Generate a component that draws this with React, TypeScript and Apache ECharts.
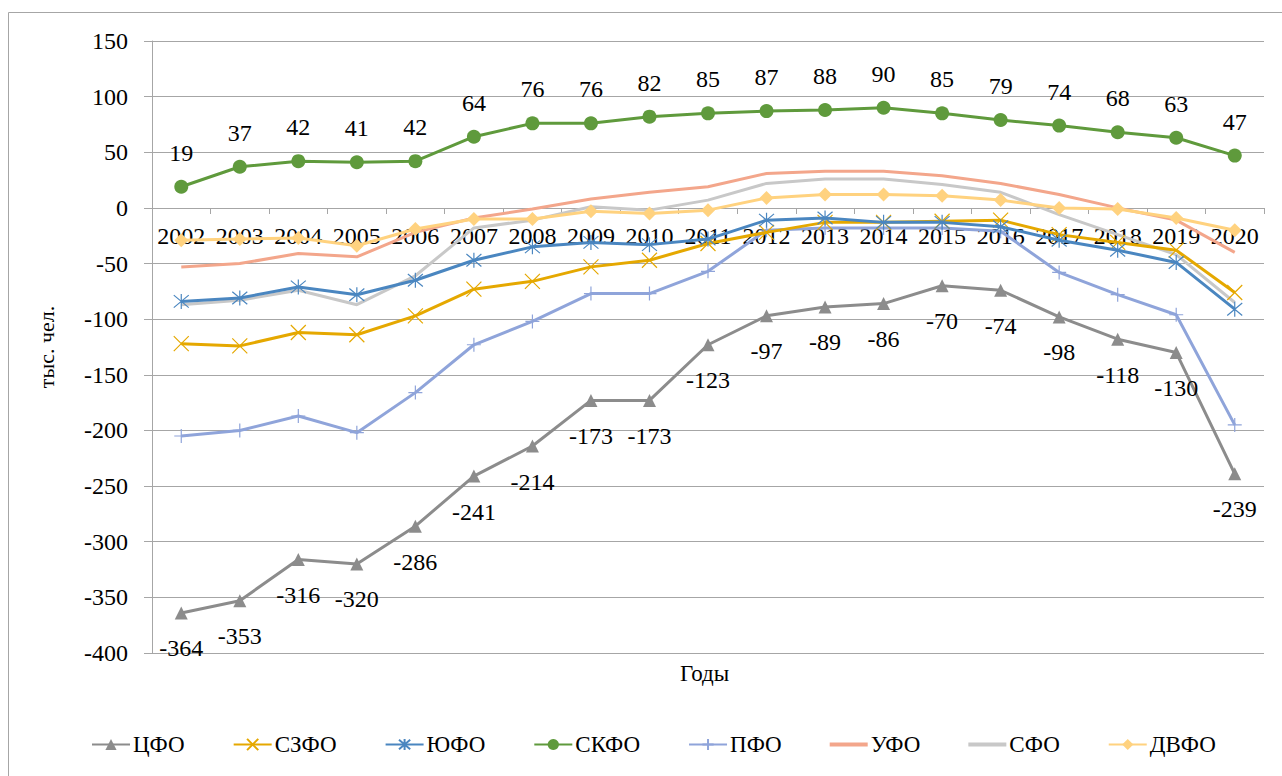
import React, { useEffect, useRef } from "react";
import * as echarts from "echarts";

const years = ["2002","2003","2004","2005","2006","2007","2008","2009","2010","2011","2012","2013","2014","2015","2016","2017","2018","2019","2020"];

const cfo = [-364,-353,-316,-320,-286,-241,-214,-173,-173,-123,-97,-89,-86,-70,-74,-98,-118,-130,-239];
const szfo = [-122,-124,-112,-114,-97,-73,-66,-53,-47,-32,-22,-13,-13,-12,-11,-24,-31,-38,-76];
const yufo = [-84,-81,-71,-78,-65,-47,-35,-31,-33,-28,-11,-9,-13,-13,-17,-29,-38,-49,-91];
const skfo = [19,37,42,41,42,64,76,76,82,85,87,88,90,85,79,74,68,63,47];
const pfo = [-205,-200,-187,-202,-166,-123,-102,-77,-77,-57,-20,-18,-18,-18,-21,-58,-78,-96,-195];
const ufo = [-53,-50,-41,-44,-22,-9,-1,8,14,19,31,33,33,29,22,12,0,-11,-40];
const sfo = [-87,-83,-74,-87,-61,-18,-11,1,-2,7,22,26,26,21,14,-6,-24,-42,-85];
const dvfo = [-29,-28,-27,-34,-19,-10,-10,-3,-5,-2,9,12,12,11,7,0,-1,-9,-20];

const FONT = "Liberation Serif";
const X_SYM = "path://M0,0L10,10M10,0L0,10";
const STAR_SYM = "path://M0,0L10,10M10,0L0,10M5,-1L5,11";
const PLUS_SYM = "path://M5,0L5,10M0,5L10,5";
const LINE_ICON = "path://M0,0L0.01,0L0,0.01ZM0,5L38,5L38,9L0,9ZM0,14L0.01,14L0,13.99Z";

export default function App() {
  const ref = useRef<HTMLDivElement>(null);
  useEffect(() => {
    if (!ref.current) return;
    const chart = echarts.init(ref.current, null, { renderer: "svg" });
    const lineBase = (name: string, data: number[], color: string, extra: any) => ({
      name,
      type: "line",
      data,
      lineStyle: { color, width: 3 },
      itemStyle: { color },
      ...extra,
    });
    chart.setOption({
      animation: false,
      textStyle: { fontFamily: FONT },
      grid: { left: 152, right: 18, top: 41, bottom: 123, containLabel: false },
      graphic: [
        {
          type: "rect",
          shape: { x: 8.5, y: 12.5, width: 1400, height: 900 },
          style: { fill: "none", stroke: "#a6a6a6", lineWidth: 1 },
          silent: true,
        },
        {
          type: "text",
          left: 680,
          top: 662,
          style: { text: "Годы", fontSize: 23, fontFamily: FONT, fill: "#000" },
        },
      ],
      legend: {
        left: 86,
        top: 728,
        itemWidth: 38,
        itemHeight: 14,
        itemGap: 48,
        textStyle: { fontSize: 23, fontFamily: FONT, color: "#000", padding: [0, 0, 0, -2] },
        data: [
          "ЦФО",
          "СЗФО",
          "ЮФО",
          "СКФО",
          "ПФО",
          { name: "УФО", icon: LINE_ICON },
          { name: "СФО", icon: LINE_ICON },
          "ДВФО",
        ],
      },
      xAxis: {
        type: "category",
        data: years,
        boundaryGap: true,
        offset: -445,
        axisLine: { onZero: false, lineStyle: { color: "#a6a6a6", width: 1 } },
        axisTick: { show: true, length: 6, lineStyle: { color: "#a6a6a6" }, alignWithLabel: false },
        axisLabel: { fontSize: 24, fontFamily: FONT, color: "#000", margin: 16, interval: 0 },
        splitLine: { show: false },
        z: 1,
      },
      yAxis: {
        type: "value",
        min: -400,
        max: 150,
        interval: 50,
        name: "тыс. чел.",
        nameLocation: "middle",
        nameRotate: 90,
        nameGap: 95,
        nameTextStyle: { fontSize: 22, fontFamily: FONT, color: "#000" },
        axisLine: { show: true, lineStyle: { color: "#a6a6a6" } },
        axisTick: { show: true, length: 8, lineStyle: { color: "#a6a6a6" } },
        axisLabel: { fontSize: 24, fontFamily: FONT, color: "#000", margin: 24 },
        splitLine: { show: true, lineStyle: { color: "#a6a6a6", width: 1 } },
      },
      series: [
        lineBase("ЦФО", cfo, "#8c8c8c", {
          symbol: "triangle",
          symbolSize: 13,
          z: 8,
          label: { show: true, position: "bottom", distance: 17, fontSize: 24, fontFamily: FONT, color: "#000" },
        }),
        lineBase("СЗФО", szfo, "#e5a800", {
          symbol: X_SYM,
          symbolSize: 15,
          itemStyle: { color: "#e5a800", borderColor: "#e5a800", borderWidth: 1.2 },
          z: 6,
        }),
        lineBase("ЮФО", yufo, "#4a86c0", {
          symbol: STAR_SYM,
          symbolSize: 15,
          itemStyle: { color: "#4a86c0", borderColor: "#4a86c0", borderWidth: 1.2 },
          z: 7,
        }),
        lineBase("СКФО", skfo, "#5f9a3c", {
          symbol: "circle",
          symbolSize: 14,
          z: 8,
          label: { show: true, position: "top", distance: 15, fontSize: 24, fontFamily: FONT, color: "#000" },
        }),
        lineBase("ПФО", pfo, "#8fa4da", {
          symbol: PLUS_SYM,
          symbolSize: 14,
          itemStyle: { color: "#8fa4da", borderColor: "#8fa4da", borderWidth: 1.2 },
          z: 5,
        }),
        lineBase("УФО", ufo, "#f3a68b", { symbol: "none", z: 3 }),
        lineBase("СФО", sfo, "#c8c8c8", { symbol: "none", z: 4 }),
        lineBase("ДВФО", dvfo, "#ffd27f", { symbol: "diamond", symbolSize: 14, z: 4 }),
      ],
    });
    return () => chart.dispose();
  }, []);
  return (
    <div
      ref={ref}
      style={{ position: "absolute", left: 0, top: 0, width: 1282, height: 776, background: "#fff" }}
    />
  );
}
